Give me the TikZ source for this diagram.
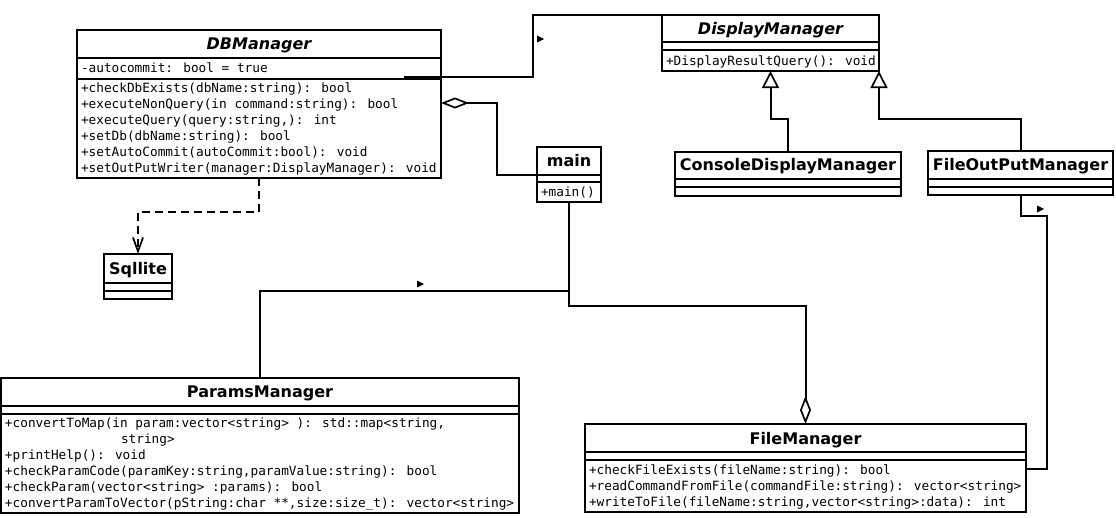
\documentclass[tikz,border=0pt]{standalone}
\usepackage{fontspec}
\newfontfamily\umlmono{DejaVu Sans Mono}
\newfontfamily\umltitle{DejaVu Sans}[BoldItalicFont={DejaVu Sans Bold Oblique}]
\usetikzlibrary{arrows.meta}
\begin{document}
\begin{tikzpicture}[x=1pt,y=-1pt, line width=2pt,
 classbox/.style={draw, rectangle, inner sep=0pt, outer sep=0pt, anchor=north west},
 mem/.style={font=\umlmono\fontsize{12.75}{16}\selectfont, anchor=base west, inner sep=0pt},
 ttl/.style={font=\umltitle\bfseries\fontsize{16}{19}\selectfont, anchor=base, inner sep=0pt},
 assoc/.style={line width=2pt},
 aggr/.style={-{Diamond[open,length=28pt,width=11pt,line width=1.7pt]}},
 inherit/.style={-{Triangle[open,length=17pt,width=17pt,line width=1.7pt]}},
 dep/.style={dash pattern=on 8pt off 5pt, -{Straight Barb[length=14pt,width=10pt,line width=1.7pt]}},
 navmark/.pic={\fill (-3,-3.5) -- (4,0) -- (-3,3.5) -- cycle;}
]
\useasboundingbox (0,0) rectangle (1116,517);

% ---------- DBManager ----------
\node[classbox, minimum width=364pt, minimum height=148pt] (db) at (77,30) {};
\draw (db.west |- 0,57.5) -- (db.east |- 0,57.5);
\draw (db.west |- 0,78.5) -- (db.east |- 0,78.5);
\node[ttl] (dbt) at (db.north |- 0,49.5) {\itshape DBManager};
\node[mem] (dba) at (80,72.5) {-autocommit: bool = true};
\node[mem] (dbm1) at (80,92.5) {+checkDbExists(dbName:string): bool};
\node[mem] (dbm2) at (80,108.5) {+executeNonQuery(in command:string): bool};
\node[mem] (dbm3) at (80,124.5) {+executeQuery(query:string,): int};
\node[mem] (dbm4) at (80,140.5) {+setDb(dbName:string): bool};
\node[mem] (dbm5) at (80,156.5) {+setAutoCommit(autoCommit:bool): void};
\node[mem] (dbm6) at (80,172.5) {+setOutPutWriter(manager:DisplayManager): void};

% ---------- DisplayManager ----------
\node[classbox, minimum width=217pt, minimum height=56pt] (dm) at (662,15) {};
\draw (dm.west |- 0,42) -- (dm.east |- 0,42);
\draw (dm.west |- 0,49.5) -- (dm.east |- 0,49.5);
\node[ttl] (dmt) at (dm.north |- 0,34) {\itshape DisplayManager};
\node[mem] (dmm1) at (665,65) {+DisplayResultQuery(): void};

% ---------- main ----------
\node[classbox, minimum width=64pt, minimum height=55pt] (mainc) at (537,147) {};
\draw (mainc.west |- 0,174.5) -- (mainc.east |- 0,174.5);
\draw (mainc.west |- 0,181.5) -- (mainc.east |- 0,181.5);
\node[ttl] (maint) at (mainc.north |- 0,166.5) {main};
\node[mem] (mainm1) at (540,196) {+main()};

% ---------- ConsoleDisplayManager ----------
\node[classbox, minimum width=226pt, minimum height=44pt] (cdm) at (675,152) {};
\draw (cdm.west |- 0,179) -- (cdm.east |- 0,179);
\draw (cdm.west |- 0,187) -- (cdm.east |- 0,187);
\node[ttl] (cdmt) at (cdm.north |- 0,170.5) {ConsoleDisplayManager};

% ---------- FileOutPutManager ----------
\node[classbox, minimum width=185pt, minimum height=44pt] (fom) at (928,151) {};
\draw (fom.west |- 0,179) -- (fom.east |- 0,179);
\draw (fom.west |- 0,187) -- (fom.east |- 0,187);
\node[ttl] (fomt) at (fom.north |- 0,170) {FileOutPutManager};

% ---------- Sqllite ----------
\node[classbox, minimum width=68pt, minimum height=45pt] (sql) at (104,254) {};
\draw (sql.west |- 0,283) -- (sql.east |- 0,283);
\draw (sql.west |- 0,291) -- (sql.east |- 0,291);
\node[ttl] (sqlt) at (sql.north |- 0,274) {Sqllite};

% ---------- ParamsManager ----------
\node[classbox, minimum width=518pt, minimum height=135pt] (pm) at (1,378) {};
\draw (pm.west |- 0,406) -- (pm.east |- 0,406);
\draw (pm.west |- 0,413.5) -- (pm.east |- 0,413.5);
\node[ttl] (pmt) at (pm.north |- 0,397.5) {ParamsManager};
\node[mem] (pmm1) at (4,427) {+convertToMap(in param:vector<string> ): std::map<string,};
\node[mem] (pmm1b) at (120,443) {string>};
\node[mem] (pmm2) at (4,459) {+printHelp(): void};
\node[mem] (pmm3) at (4,475) {+checkParamCode(paramKey:string,paramValue:string): bool};
\node[mem] (pmm4) at (4,491) {+checkParam(vector<string> :params): bool};
\node[mem] (pmm5) at (4,507) {+convertParamToVector(pString:char **,size:size\_t): vector<string>};

% ---------- FileManager ----------
\node[classbox, minimum width=441pt, minimum height=88pt] (fm) at (585,424) {};
\draw (fm.west |- 0,452) -- (fm.east |- 0,452);
\draw (fm.west |- 0,460) -- (fm.east |- 0,460);
\node[ttl] (fmt) at (fm.north |- 0,444) {FileManager};
\node[mem] (fmm1) at (588,474) {+checkFileExists(fileName:string): bool};
\node[mem] (fmm2) at (588,490) {+readCommandFromFile(commandFile:string): vector<string>};
\node[mem] (fmm3) at (588,506) {+writeToFile(fileName:string,vector<string>:data): int};

% ---------- connectors ----------
\coordinate (dbA) at (404,77);
\draw[assoc] (dbA) -| (dm.north west -| 533,0) -- (dm.north west);
\pic at (540,39) {navmark};

\draw[aggr] (mainc.west |- 0,175) -| (497,103) -- (db.east |- 0,103);

\draw[inherit] (cdm.north) -- ++(0,-33) -| (dm.south);
\draw[inherit] (fom.north) -- ++(0,-32) -| (dm.south east);

\draw[assoc] (fom.south) |- (1047,216) |- (fm.east |- 0,469);
\pic at (1040,209) {navmark};

\draw[assoc] (mainc.south) |- (260,291) -- (pm.north -| 260,0);
\pic at (420,284) {navmark};

\draw[aggr] (mainc.south) |- (fm.north |- 0,306) -- (fm.north);

\draw[dep] (db.south) |- (sql.north |- 0,212) -- (sql.north);
\end{tikzpicture}
\end{document}
